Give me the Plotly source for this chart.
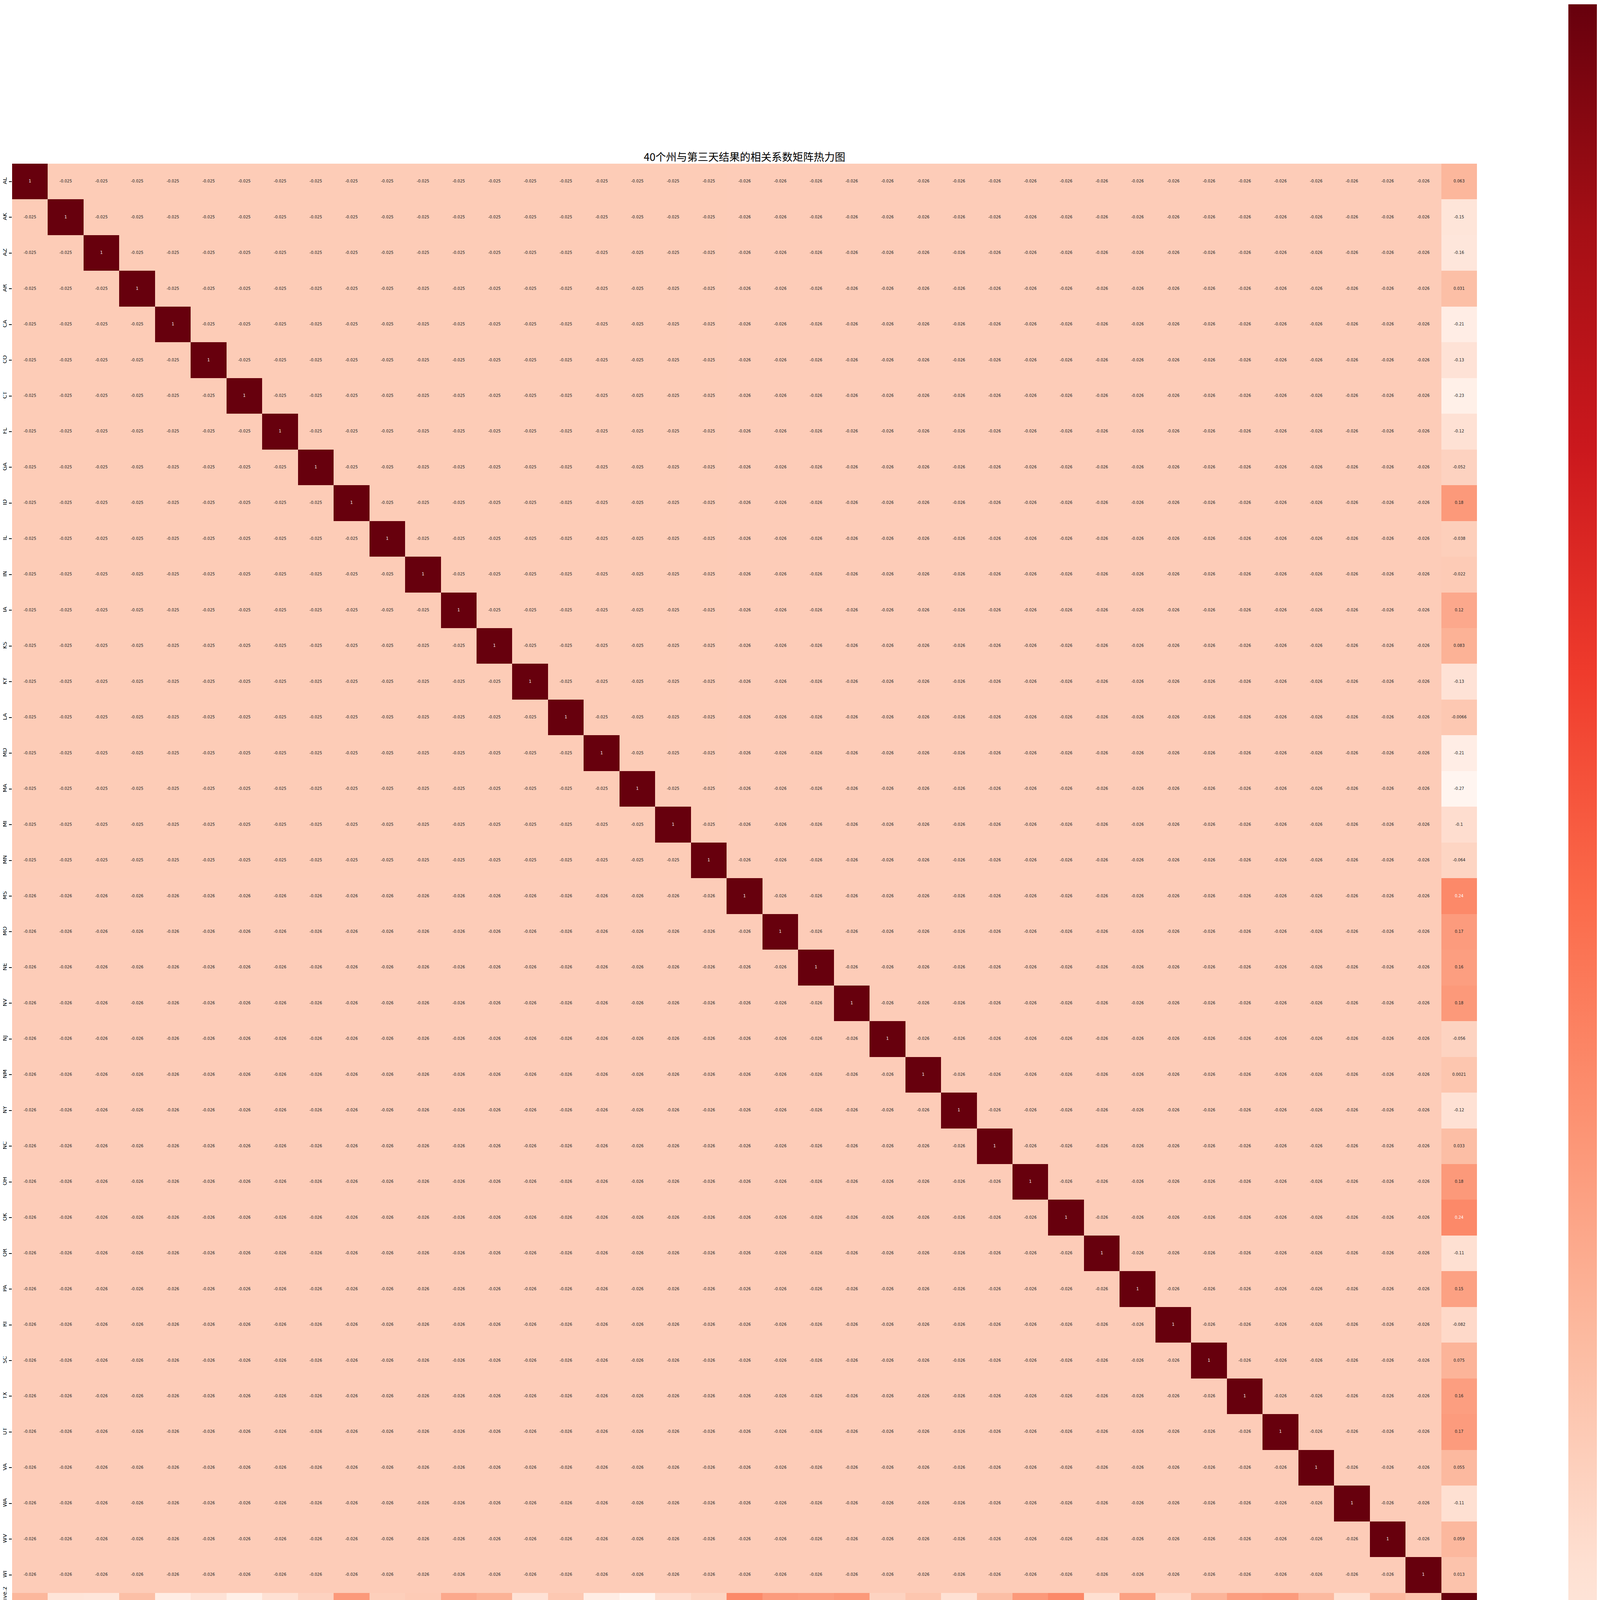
"""
40个州与第三天结果的相关系数矩阵热力图 - rebuilt with plotly
Writes out.html into the current folder.
"""

import plotly.graph_objects as go

# state columns, in the order they appear on both axes
states = ["AL", "AK", "AZ", "AR", "CA", "CO", "CT", "FL", "GA", "ID",
          "IL", "IN", "IA", "KS", "KY", "LA", "MD", "MA", "MI", "MN",
          "MS", "MO", "NE", "NV", "NJ", "NM", "NY", "NC", "OH", "OK",
          "OR", "PA", "RI", "SC", "TX", "UT", "VA", "WA", "WV", "WI"]
target = "tested_positive.2"

# correlation of every state with tested_positive.2 (last row / column)
target_corr = [0.063, -0.15, -0.16, 0.031, -0.21, -0.13, -0.23, -0.12, -0.052, 0.18,
               -0.038, -0.022, 0.12, 0.083, -0.13, -0.0066, -0.21, -0.27, -0.1, -0.064,
               0.24, 0.17, 0.16, 0.18, -0.056, 0.0021, -0.12, 0.033, 0.18, 0.24,
               -0.11, 0.15, -0.082, 0.075, 0.16, 0.17, 0.055, -0.11, 0.059, 0.013]

# state vs state: AL..MN among themselves read -0.025, every pair touching MS..WI reads -0.026
first_group = states[:20]
corr_first_group = -0.025
corr_other = -0.026

colorbar_ticks = [-0.2, 0.0, 0.2, 0.4, 0.6, 0.8, 1.0]

# matplotlib "Reds"
reds = ["#fff5f0", "#fee0d2", "#fcbba1", "#fc9272", "#fb6a4a",
        "#ef3b2c", "#cb181d", "#a50f15", "#67000d"]
colorscale = [[i / (len(reds) - 1), c] for i, c in enumerate(reds)]


def hex_rgb(h):
    return tuple(int(h[k:k + 2], 16) for k in (1, 3, 5))


def color_at(t):
    t = min(max(t, 0.0), 1.0)
    pos = t * (len(reds) - 1)
    i = min(int(pos), len(reds) - 2)
    f = pos - i
    a, b = hex_rgb(reds[i]), hex_rgb(reds[i + 1])
    return [a[k] + (b[k] - a[k]) * f for k in range(3)]


def luminance(rgb):
    lin = []
    for c in rgb:
        c = c / 255
        lin.append(c / 12.92 if c <= 0.03928 else ((c + 0.055) / 1.055) ** 2.4)
    return 0.2126 * lin[0] + 0.7152 * lin[1] + 0.0722 * lin[2]


labels = states + [target]
n = len(labels)

z = []
for i, r in enumerate(labels):
    row = []
    for j, c in enumerate(labels):
        if i == j:
            row.append(1.0)
        elif r == target:
            row.append(target_corr[j])
        elif c == target:
            row.append(target_corr[i])
        elif r in first_group and c in first_group:
            row.append(corr_first_group)
        else:
            row.append(corr_other)
    z.append(row)

zmin = min(min(row) for row in z)
zmax = 1.0

# annotation text like seaborn (fmt .2g), white on dark cells
tx, ty, tt, tc = [], [], [], []
for i, r in enumerate(labels):
    for j, c in enumerate(labels):
        v = z[i][j]
        tx.append(c)
        ty.append(r)
        tt.append(format(v, ".2g"))
        lum = luminance(color_at((v - zmin) / (zmax - zmin)))
        tc.append("#262626" if lum > 0.408 else "white")

fig = go.Figure()
fig.add_trace(go.Heatmap(
    z=z, x=labels, y=labels,
    colorscale=colorscale, zmin=zmin, zmax=zmax,
    hoverinfo="skip",
    colorbar=dict(
        thickness=228, lenmode="pixels", len=4566,
        x=1.0624, xanchor="left", xpad=0,
        y=0.5, yanchor="middle", ypad=0,
        outlinewidth=0,
        tickvals=colorbar_ticks,
        ticktext=[f"{v:.1f}".replace("-", "\u2212") for v in colorbar_ticks],
        ticks="outside", ticklen=5, tickwidth=1, tickcolor="#262626",
        tickfont=dict(family="DejaVu Sans", size=11, color="#262626"),
    ),
))
fig.add_trace(go.Scatter(
    x=tx, y=ty, text=tt, mode="text",
    textfont=dict(family="DejaVu Sans", size=10, color=tc),
    hoverinfo="skip", showlegend=False,
))

# page body adds 8px, so margins are shifted to keep the square where the reference has it
fig.update_layout(
    width=4281, height=4584,
    margin=dict(l=23, r=508, t=411, b=423, autoexpand=False),
    paper_bgcolor="white", plot_bgcolor="white",
    title=dict(text="40个州与第三天结果的相关系数矩阵热力图",
               x=0.5, xref="paper", xanchor="center",
               y=1 - 395 / 4584, yanchor="middle",
               font=dict(family="Noto Sans CJK SC", size=27, color="black")),
    showlegend=False,
)
fig.update_xaxes(
    type="category", categoryorder="array", categoryarray=labels,
    range=[-0.5, n - 0.5],
    showgrid=False, zeroline=False, showline=False,
    ticks="outside", ticklen=7, tickwidth=1.5, tickcolor="black",
    tickangle=0, automargin=False,
    tickfont=dict(family="DejaVu Sans", size=14, color="black"),
)
fig.update_yaxes(
    type="category", categoryorder="array", categoryarray=labels,
    range=[n - 0.5, -0.5],
    showgrid=False, zeroline=False, showline=False,
    ticks="outside", ticklen=7, tickwidth=1.5, tickcolor="black",
    tickangle=-90, automargin=False,
    tickfont=dict(family="DejaVu Sans", size=14, color="black"),
)

fig.write_html("out.html")
